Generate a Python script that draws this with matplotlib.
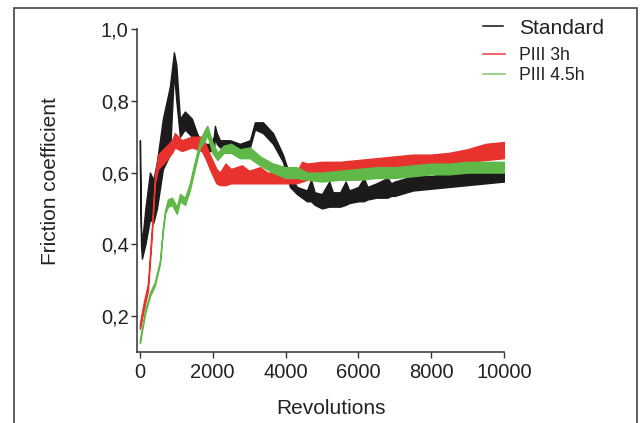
import matplotlib
matplotlib.use("Agg")
import matplotlib.pyplot as plt
from matplotlib.lines import Line2D
from matplotlib.patches import Rectangle

plt.rcParams['font.family'] = ['Liberation Sans', 'DejaVu Sans']

# Standard: revolutions and lower / upper edge of the noisy band
std_x = [0, 30, 55, 150, 275, 370, 467, 632, 824, 934, 1000, 1099, 1236, 1428,
         1566, 1703, 1923, 2030, 2060, 2110, 2198, 2472, 2747, 3022, 3159, 3379,
         3654, 3928, 4121, 4313, 4588, 4700, 4800, 5000, 5200, 5300, 5500, 5650,
         5750, 6000, 6150, 6250, 6500, 6800, 6900, 7000, 7500, 8000,
         8500, 9000, 9500, 10000]
std_lo = [0.62, 0.40, 0.36, 0.40, 0.47, 0.46, 0.50, 0.61, 0.65, 0.88, 0.80, 0.70,
          0.72, 0.70, 0.67, 0.66, 0.66, 0.66, 0.70, 0.68, 0.67, 0.67, 0.66, 0.67,
          0.72, 0.71, 0.68, 0.63, 0.56, 0.54, 0.52, 0.52, 0.51, 0.50, 0.505, 0.505,
          0.505, 0.51, 0.515, 0.52, 0.52, 0.525, 0.53, 0.53, 0.535,
          0.535, 0.55, 0.555, 0.56, 0.565, 0.57, 0.575]
std_hi = [0.69, 0.45, 0.40, 0.50, 0.60, 0.58, 0.63, 0.75, 0.84, 0.935, 0.90, 0.75,
          0.77, 0.75, 0.71, 0.68, 0.68, 0.70, 0.73, 0.71, 0.69, 0.69, 0.68, 0.69,
          0.74, 0.74, 0.71, 0.65, 0.59, 0.56, 0.55, 0.58, 0.545, 0.54, 0.575, 0.545,
          0.545, 0.575, 0.55, 0.56, 0.585, 0.56, 0.57, 0.585, 0.57,
          0.575, 0.59, 0.59, 0.60, 0.60, 0.605, 0.61]

# PIII 3h
p3_x = [0, 110, 220, 330, 410, 500, 690, 880, 960, 1150, 1430, 1700, 1800, 1920,
        2100, 2200, 2350, 2500, 2800, 3000, 3300, 3500, 4000, 4300, 4450, 4600,
        5000, 5500, 6000, 6500, 7000, 7500, 8000, 8500, 9000, 9500, 10000]
p3_lo = [0.165, 0.22, 0.27, 0.43, 0.57, 0.61, 0.63, 0.655, 0.67, 0.66, 0.67, 0.66,
         0.64, 0.61, 0.57, 0.565, 0.565, 0.57, 0.57, 0.57, 0.57, 0.57, 0.57, 0.57,
         0.575, 0.58, 0.595, 0.60, 0.60, 0.605, 0.61, 0.615, 0.615, 0.625, 0.63,
         0.635, 0.64]
p3_hi = [0.18, 0.24, 0.29, 0.45, 0.59, 0.65, 0.67, 0.69, 0.71, 0.69, 0.70, 0.70,
         0.68, 0.65, 0.61, 0.60, 0.625, 0.61, 0.62, 0.605, 0.615, 0.60, 0.60, 0.60,
         0.63, 0.625, 0.63, 0.63, 0.635, 0.64, 0.645, 0.65, 0.65, 0.655, 0.665,
         0.68, 0.685]

# PIII 4.5h
p45_x = [0, 140, 275, 410, 550, 630, 690, 770, 880, 1015, 1100, 1240, 1370, 1460,
         1650, 1790, 1850, 1990, 2130, 2300, 2500, 2750, 3020, 3300, 3650, 4000,
         4300, 4600, 5000, 5500, 6000, 6500, 7000, 7500, 8000, 8500, 9000, 9500,
         10000]
p45_lo = [0.125, 0.205, 0.255, 0.285, 0.345, 0.435, 0.485, 0.505, 0.51, 0.485,
          0.52, 0.51, 0.55, 0.59, 0.67, 0.69, 0.705, 0.655, 0.635, 0.655, 0.655,
          0.64, 0.64, 0.62, 0.60, 0.585, 0.585, 0.58, 0.575, 0.58, 0.58, 0.585,
          0.585, 0.59, 0.595, 0.595, 0.60, 0.60, 0.60]
p45_hi = [0.135, 0.215, 0.265, 0.295, 0.355, 0.445, 0.495, 0.525, 0.53, 0.505,
          0.54, 0.53, 0.57, 0.61, 0.69, 0.72, 0.73, 0.685, 0.655, 0.675, 0.68,
          0.665, 0.67, 0.645, 0.625, 0.615, 0.615, 0.60, 0.60, 0.605, 0.61, 0.615,
          0.615, 0.62, 0.625, 0.625, 0.63, 0.63, 0.63]

yticks = [0.2, 0.4, 0.6, 0.8, 1.0]
ytick_labels = ['0,2', '0,4', '0,6', '0,8', '1,0']
xticks = [0, 2000, 4000, 6000, 8000, 10000]
names = ['Standard', 'PIII 3h', 'PIII 4.5h']

c_std = '#1c1a1a'
c_p3 = '#e8322d'
c_p45 = '#5fb847'

W, H = 643, 423
fig = plt.figure(figsize=(W / 100, H / 100), dpi=100)
ax = fig.add_axes([137 / W, 1 - 352 / H, 367 / W, 323 / H])

for xs, lo, hi, col in [(std_x, std_lo, std_hi, c_std),
                        (p3_x, p3_lo, p3_hi, c_p3),
                        (p45_x, p45_lo, p45_hi, c_p45)]:
    ax.fill_between(xs, lo, hi, color=col, linewidth=1.0, edgecolor=col)

ax.set_xlim(-80, 10000)
ax.set_ylim(0.1, 1.0)
ax.set_yticks(yticks)
ax.set_yticklabels(ytick_labels)
ax.set_xticks(xticks)
for side in ['top', 'right']:
    ax.spines[side].set_visible(False)
for side in ['left', 'bottom']:
    ax.spines[side].set_color('#333333')
    ax.spines[side].set_linewidth(1.1)
ax.tick_params(direction='out', length=4, width=1, color='#333333',
               labelsize=14.5, labelcolor='#222222')
ax.tick_params(axis='y', pad=2)
ax.tick_params(axis='x', pad=4)

ax.set_xlabel('Revolutions', fontsize=15, color='#222222', va='center')
ax.xaxis.set_label_coords(0.529, -0.176)
ax.set_ylabel('Friction coefficient', fontsize=15, color='#222222', va='center')
ax.yaxis.set_label_coords(-0.237, 0.53)

# legend drawn by hand so each entry sits where the reference has it
leg_y = [26, 54, 74]
leg_col = ['#111111', '#f03a3a', '#7cc86a']
leg_end = [503, 505, 505]
leg_size = [15, 12.7, 12.7]
for name, yy, col, xe, fs in zip(names, leg_y, leg_col, leg_end, leg_size):
    fig.add_artist(Line2D([483 / W, xe / W], [1 - yy / H, 1 - yy / H],
                          color=col, lw=1.1, transform=fig.transFigure))
    fig.text(519 / W, 1 - (yy + 2) / H, name, fontsize=fs, color='#222222',
             ha='left', va='center')

# outer frame around the figure
fig.add_artist(Rectangle((14 / W, -0.05), (637 - 14) / W, 1 - 8 / H + 0.05,
                         transform=fig.transFigure, fill=False,
                         edgecolor='#444444', linewidth=1.2))

fig.savefig('out.png', dpi=100)
